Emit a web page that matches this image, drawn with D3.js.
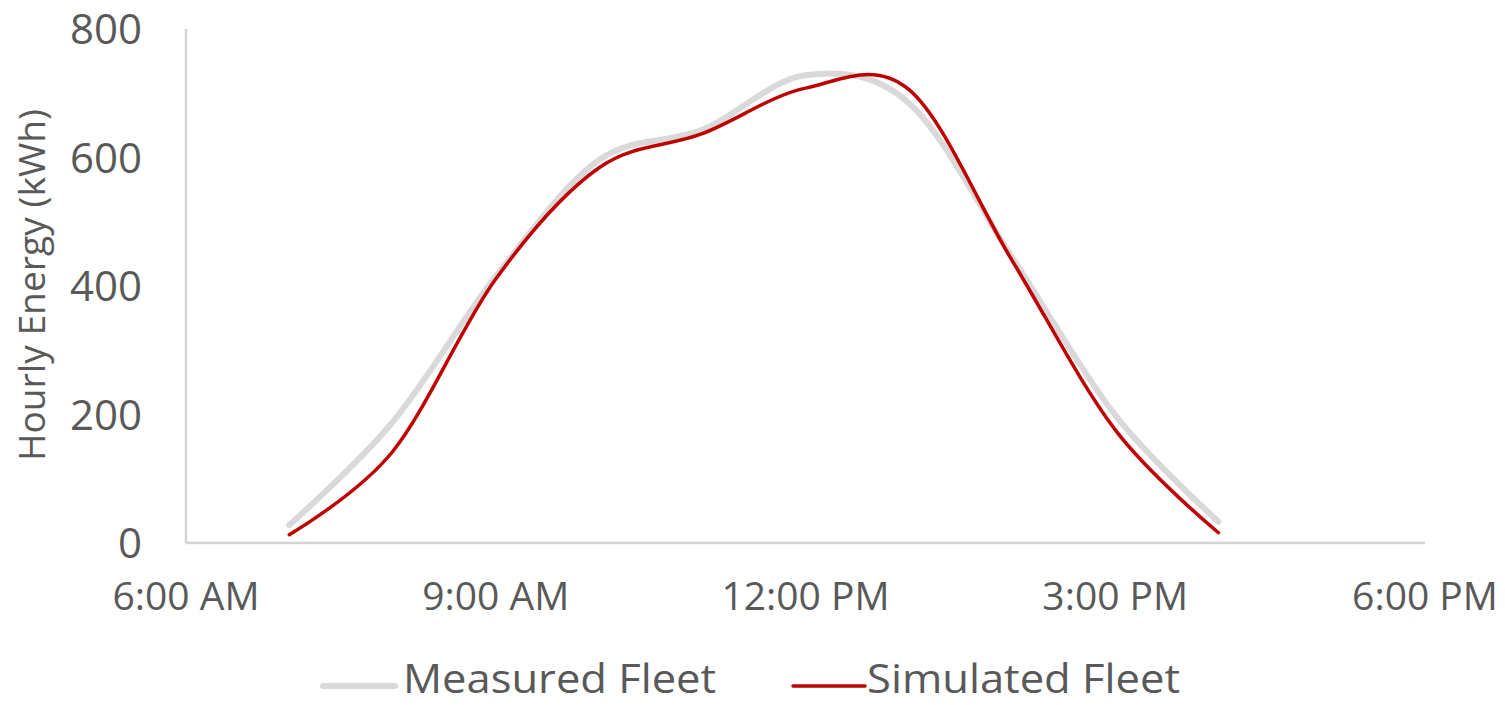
<!DOCTYPE html>
<html><head><meta charset="utf-8">
<script src="https://cdn.jsdelivr.net/npm/d3@7"></script>
<style>body{margin:0;background:#fff}svg text{font-family:"Open Sans",sans-serif;fill:#595959}</style>
</head><body>
<svg id="c" width="1505" height="705"></svg>
<script>
const hours = [7, 8, 9, 10, 11, 12, 13, 14, 15, 16];
const measured = [28, 188, 415, 596, 643, 728, 685, 445, 199, 33];
const simulated = [13, 142, 411, 584, 637, 708, 706, 440, 176, 16];
const xTicks = [6, 9, 12, 15, 18];
const xTickLabels = ["6:00 AM", "9:00 AM", "12:00 PM", "3:00 PM", "6:00 PM"];
const yTicks = [0, 200, 400, 600, 800];
const seriesNames = ["Measured Fleet", "Simulated Fleet"];

const svg = d3.select("#c");
const x = d3.scaleLinear().domain([6, 18]).range([186, 1425]);
const y = d3.scaleLinear().domain([0, 800]).range([543, 29]);

// axes lines
svg.append("line").attr("x1", x(6)).attr("x2", x(6)).attr("y1", y(800)).attr("y2", y(0))
  .attr("stroke", "#d4d4d4").attr("stroke-width", 2.5);
svg.append("line").attr("x1", x(6)).attr("x2", x(18)).attr("y1", y(0)).attr("y2", y(0))
  .attr("stroke", "#d4d4d4").attr("stroke-width", 2.5);

// y tick labels
svg.selectAll(".yt").data(yTicks).enter().append("text")
  .attr("x", 142).attr("y", d => y(d)).attr("dy", "0.36em")
  .attr("text-anchor", "end").attr("font-size", 42).text(d => d);

// x tick labels
svg.selectAll(".xt").data(xTicks).enter().append("text")
  .attr("x", d => x(d)).attr("y", 610)
  .attr("text-anchor", "middle").attr("font-size", 39).text((d, i) => xTickLabels[i]);

// y title
svg.append("text").attr("transform", "translate(45,285) rotate(-90)")
  .attr("text-anchor", "middle").attr("font-size", 36)
  .attr("textLength", 352).attr("lengthAdjust", "spacingAndGlyphs")
  .text("Hourly Energy (kWh)");

const line = d3.line().x((d, i) => x(hours[i])).y(d => y(d)).curve(d3.curveCardinal.tension(0));

svg.append("path").attr("d", line(measured)).attr("fill", "none")
  .attr("stroke", "#d9d9d9").attr("stroke-width", 6).attr("stroke-linecap", "round");
svg.append("path").attr("d", line(simulated)).attr("fill", "none")
  .attr("stroke", "#c00000").attr("stroke-width", 3.5).attr("stroke-linecap", "round");

// legend
const leg = [
  {x1: 323, x2: 395, tx: 403, color: "#d9d9d9", w: 6},
  {x1: 793, x2: 865, tx: 867, color: "#c00000", w: 3.5}
];
leg.forEach((l, i) => {
  svg.append("line").attr("x1", l.x1).attr("x2", l.x2).attr("y1", 686).attr("y2", 686)
    .attr("stroke", l.color).attr("stroke-width", l.w).attr("stroke-linecap", "round");
  svg.append("text").attr("x", l.tx).attr("y", 693)
    .attr("font-size", 40).attr("textLength", 313).attr("lengthAdjust", "spacingAndGlyphs")
    .text(seriesNames[i]);
});
</script>
</body></html>
